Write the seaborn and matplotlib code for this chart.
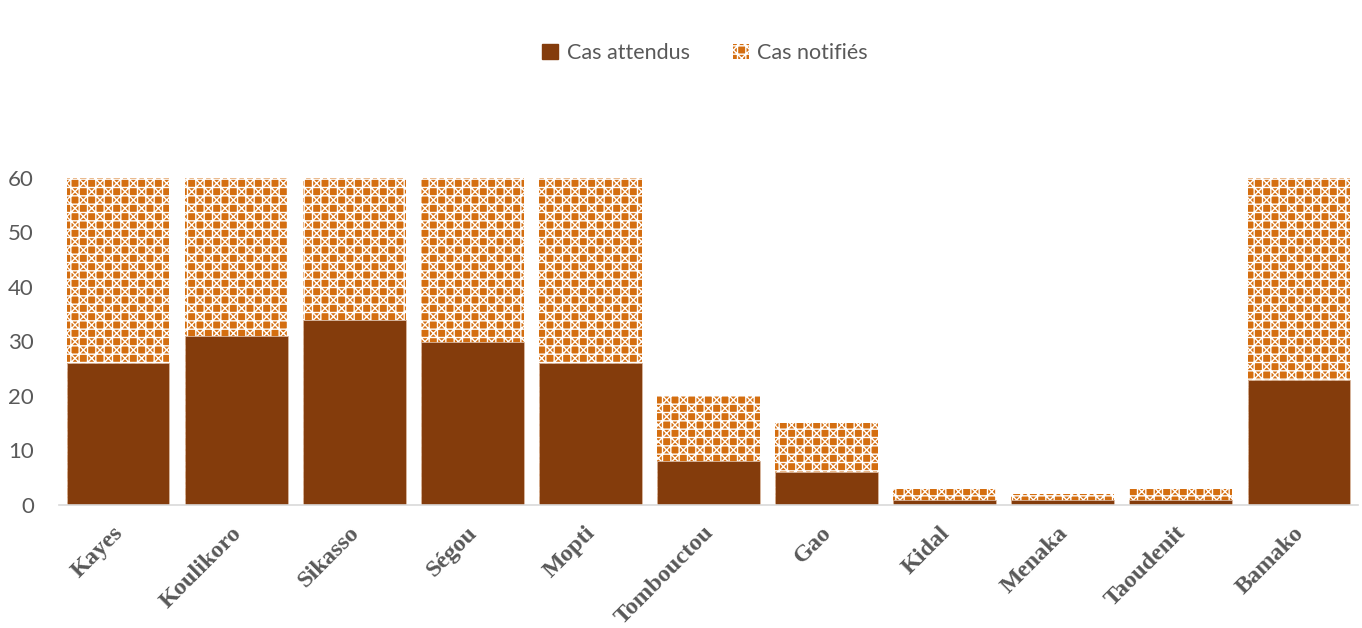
import matplotlib
matplotlib.use("Agg")
import matplotlib.pyplot as plt
import matplotlib.transforms as mtransforms
from matplotlib.patches import Patch
import seaborn as sns
import pandas as pd

regions = ["Kayes", "Koulikoro", "Sikasso", "Ségou", "Mopti", "Tombouctou",
           "Gao", "Kidal", "Menaka", "Taoudenit", "Bamako"]
cas_attendus = [26, 31, 34, 30, 26, 8, 6, 1, 1, 1, 23]
cas_notifies = [34, 29, 26, 30, 34, 12, 9, 2, 1, 2, 37]
yticks = [0, 10, 20, 30, 40, 50, 60]

df = pd.DataFrame({"region": regions, "attendus": cas_attendus, "notifies": cas_notifies})
df["total"] = df["attendus"] + df["notifies"]

sns.set_theme(style="white")
plt.rcParams["hatch.linewidth"] = 1.0

dark = "#843C0C"
orange = "#D46E10"
HATCH = "++xx"

fig = plt.figure(figsize=(13.62, 6.28), dpi=100)
ax = fig.add_axes([59 / 1362, (628 - 505) / 628, (1358 - 59) / 1362, (505 - 178) / 628])

sns.barplot(data=df, x="region", y="total", color=orange, width=0.87,
            saturation=1, ax=ax, edgecolor="white", linewidth=0)
for p in ax.patches:
    p.set_hatch(HATCH)
    p.set_facecolor(orange)
    p.set_edgecolor("white")
    p.set_linewidth(0)
n = len(ax.patches)
sns.barplot(data=df, x="region", y="attendus", color=dark, width=0.87,
            saturation=1, ax=ax, edgecolor="#D9B8A0", linewidth=0.6)
for p in ax.patches[n:]:
    p.set_hatch(None)

ax.set_xlim(-0.5, len(regions) - 0.5)
ax.set_ylim(0, 60)
ax.set_yticks(yticks)
ax.set_yticklabels([str(v) for v in yticks], fontsize=16, color="#595959", family="Lato")
ax.set_xlabel("")
ax.set_ylabel("")
for s in ["top", "right", "left"]:
    ax.spines[s].set_visible(False)
ax.spines["bottom"].set_color("#D9D9D9")
ax.spines["bottom"].set_linewidth(1.2)
ax.tick_params(axis="both", length=0)
ax.tick_params(axis="y", pad=18)

ax.set_xticks(range(len(regions)))
labels = ax.set_xticklabels(regions, rotation=45, ha="right", va="center",
                            rotation_mode="anchor", fontsize=17.5, fontweight="bold",
                            color="#595959", family="Liberation Serif")
offset = mtransforms.ScaledTranslation(2 / 100, -20 / 100, fig.dpi_scale_trans)
for lab in labels:
    lab.set_transform(lab.get_transform() + offset)

handles = [Patch(facecolor=dark, edgecolor=dark, label="Cas attendus"),
           Patch(facecolor=orange, edgecolor="white", linewidth=0, hatch=HATCH, label="Cas notifiés")]
leg = fig.legend(handles=handles, loc="center", bbox_to_anchor=(705 / 1362, 1 - 53 / 628),
                 ncol=2, frameon=False, fontsize=15.5, handlelength=0.75, handleheight=0.75,
                 handletextpad=0.4, columnspacing=2.0)
for t in leg.get_texts():
    t.set_color("#595959")
    t.set_family("Lato")

fig.savefig("out.png", dpi=100)
